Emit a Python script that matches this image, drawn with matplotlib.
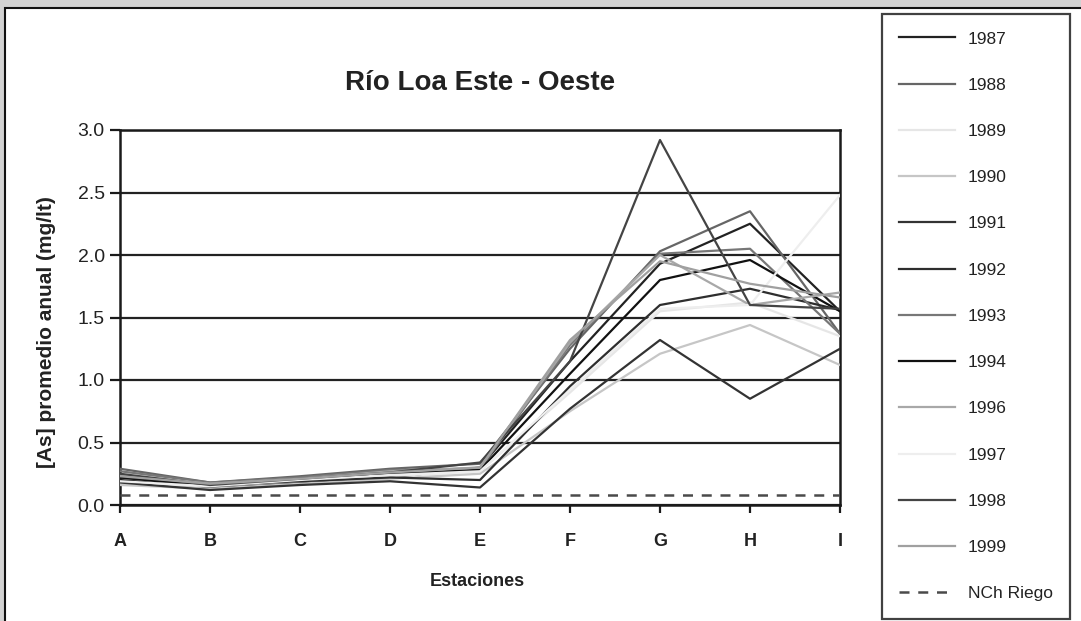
import matplotlib
matplotlib.use("Agg")
import matplotlib.pyplot as plt
from matplotlib.patches import Rectangle

plt.rcParams['font.family'] = ['Liberation Sans', 'DejaVu Sans']

estaciones = ['A', 'B', 'C', 'D', 'E', 'F', 'G', 'H', 'I']
years = ['1987', '1988', '1989', '1990', '1991', '1992',
         '1993', '1994', '1996', '1997', '1998', '1999']

as_1987 = [0.20, 0.14, 0.18, 0.22, 0.30, 1.15, 1.93, 2.25, 1.55]
as_1988 = [0.29, 0.18, 0.23, 0.29, 0.33, 1.25, 2.03, 2.35, 1.37]
as_1989 = [0.17, 0.15, 0.19, 0.23, 0.27, 0.90, 1.55, 1.62, 1.35]
as_1990 = [0.16, 0.13, 0.17, 0.21, 0.25, 0.75, 1.21, 1.44, 1.12]
as_1991 = [0.18, 0.12, 0.16, 0.19, 0.14, 0.77, 1.32, 0.85, 1.25]
as_1992 = [0.22, 0.16, 0.19, 0.22, 0.20, 0.95, 1.60, 1.73, 1.56]
as_1993 = [0.27, 0.18, 0.22, 0.28, 0.29, 1.28, 2.01, 2.05, 1.37]
as_1994 = [0.22, 0.15, 0.20, 0.25, 0.28, 1.05, 1.80, 1.96, 1.55]
as_1996 = [0.24, 0.17, 0.21, 0.27, 0.30, 1.30, 2.00, 1.60, 1.70]
as_1997 = [0.19, 0.15, 0.20, 0.24, 0.27, 0.92, 1.57, 1.60, 2.48]
as_1998 = [0.25, 0.16, 0.21, 0.26, 0.34, 1.15, 2.92, 1.60, 1.57]
as_1999 = [0.23, 0.17, 0.21, 0.26, 0.30, 1.32, 1.95, 1.77, 1.66]
nch_riego = 0.08

series = [as_1987, as_1988, as_1989, as_1990, as_1991, as_1992,
          as_1993, as_1994, as_1996, as_1997, as_1998, as_1999]
colors = ['#222222', '#666666', '#e6e6e6', '#c6c6c6', '#333333', '#2e2e2e',
          '#777777', '#111111', '#a8a8a8', '#eeeeee', '#444444', '#a0a0a0']

fig = plt.figure(figsize=(10.81, 6.21), dpi=100, facecolor='#d2d2d2')
# white slide panel behind everything
fig.patches.append(Rectangle((5 / 1081, -0.05), 1.1, 1 - 8 / 621 + 0.05,
                             transform=fig.transFigure, facecolor='white',
                             edgecolor='#111111', linewidth=1.5, zorder=-5))

ax = fig.add_axes([120 / 1081, 1 - 505 / 621, 720 / 1081, 375 / 621])
ax.set_facecolor('white')
x = list(range(len(estaciones)))

for y, c, lab in zip(series, colors, years):
    ax.plot(x, y, color=c, lw=1.6, label=lab, zorder=3)
ax.plot([x[0], x[-1]], [nch_riego, nch_riego], color='#4a4a4a', lw=1.8,
        ls=(0, (4, 3.5)), label='NCh Riego', zorder=3)

ax.set_xlim(0, 8)
ax.set_ylim(0, 3.0)
ax.set_yticks([0, 0.5, 1.0, 1.5, 2.0, 2.5, 3.0])
ax.set_yticklabels(['0.0', '0.5', '1.0', '1.5', '2.0', '2.5', '3.0'])
ax.set_xticks(x)
ax.set_xticklabels(estaciones, fontweight='bold', fontsize=13)
ax.grid(axis='y', color='#222222', lw=1.6, zorder=1)
for s in ax.spines.values():
    s.set_linewidth(1.8)
    s.set_color('#1a1a1a')
ax.tick_params(axis='y', length=7, width=1.6, pad=4, labelsize=14,
               labelcolor='#222222', color='#1a1a1a')
ax.tick_params(axis='x', length=6, width=1.6, pad=14, color='#1a1a1a',
               labelcolor='#222222')

fig.text(480 / 1081, 1 - 83 / 621, 'Río Loa Este - Oeste', ha='center',
         va='center', fontsize=20, fontweight='bold', color='#222222')
fig.text(47 / 1081, 1 - 332 / 621, '[As] promedio anual (mg/lt)', ha='center',
         va='center', rotation=90, fontsize=15, fontweight='bold', color='#222222')
fig.text(477 / 1081, 1 - 582 / 621, 'Estaciones', ha='center', va='center',
         fontsize=13, fontweight='bold', color='#222222')

leg = fig.legend(loc='upper left', bbox_to_anchor=(882 / 1081, 1 - 14 / 621),
                 borderaxespad=0, fontsize=12.5, frameon=True, fancybox=False,
                 labelspacing=1.79, handlelength=3.2, handletextpad=0.75,
                 borderpad=1.0)
leg.get_frame().set_edgecolor('#111111')
leg.get_frame().set_linewidth(1.6)
for t in leg.get_texts():
    t.set_color('#222222')

plt.savefig('out.png', dpi=100, facecolor=fig.get_facecolor())
